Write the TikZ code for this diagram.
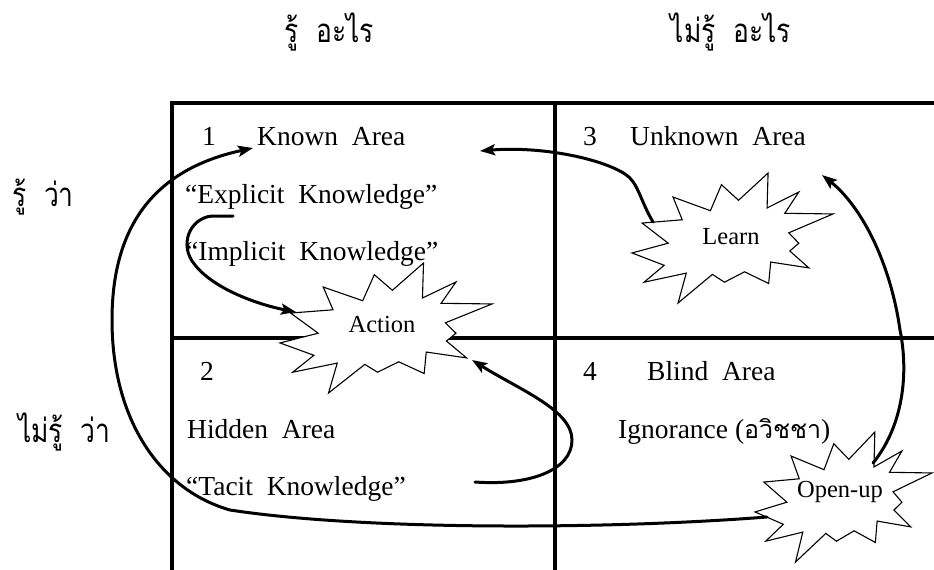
\documentclass[tikz,border=0pt]{standalone}
\usepackage{fontspec}
\setmainfont{Liberation Serif}
\newfontfamily\thaifont[Script=Thai]{Loma}
\usetikzlibrary{arrows.meta}

\tikzset{
  gridline/.style={line width=4pt},
  flow/.style={line width=3pt, line cap=round,
    -{Stealth[length=15pt,width=11pt,inset=3pt]}},
  burst/.style={draw, line width=1.1pt, fill=white, line join=miter},
  lbl/.style={inner sep=0pt, anchor=base west, font=\fontsize{27.5}{30}\selectfont},
  thai/.style={inner sep=0pt, font=\thaifont\fontsize{33}{36}\selectfont},
  burstlabel/.style={inner sep=0pt, font=\fontsize{24.5}{26}\selectfont},
}

% narrow Thai lettering
\newcommand\narrowthai[1]{\scalebox{0.8}[1]{#1}}

% explosion outline in a unit box, placed by shift and scale
\newcommand\explosion[4]{%
  \begin{scope}[shift={(#1,#2)}, xscale=#3, yscale=#4]
    \draw[burst] (0.05,0.385) -- (0.25,0.36) -- (0.204,0.185) -- (0.39,0.29)
      -- (0.445,0.09) -- (0.53,0.21) -- (0.677,0) -- (0.672,0.269)
      -- (0.83,0.146) -- (0.76,0.31) -- (1,0.315) -- (0.78,0.46)
      -- (0.83,0.54) -- (0.785,0.6) -- (0.88,0.73) -- (0.69,0.685)
      -- (0.68,0.85) -- (0.56,0.76) -- (0.46,0.84) -- (0.40,0.78)
      -- (0.229,1) -- (0.27,0.77) -- (0.06,0.84) -- (0.16,0.71)
      -- (0,0.615) -- (0.18,0.54) -- cycle;
  \end{scope}}

\begin{document}
\begin{tikzpicture}[x=1pt, y=-1pt]
\useasboundingbox (0,0) rectangle (934,570);

% window grid
\draw[gridline] (172,103) -- (934,103);
\draw[gridline] (172,338) -- (934,338);
\draw[gridline] (172,101) -- (172,570);
\draw[gridline] (555,101) -- (555,570);

% column and row headings
\node[thai] (colknown) at (329,32) {\narrowthai{รู้~~อะไร}};
\node[thai] (colunknown) at (731,32) {\narrowthai{ไม่รู้~~อะไร}};
\node[thai, anchor=west] (rowknown) at (12,197) {\narrowthai{รู้~~ว่า}};
\node[thai, anchor=west] (rowunknown) at (18,432) {\narrowthai{ไม่รู้~~ว่า}};

% quadrant 1
\node[lbl] (n1) at (202,145) {1};
\node[lbl] (known) at (257,145) {Known~ Area};
\node[lbl] (explicit) at (185,203) {“Explicit~ Knowledge”};
\node[lbl] (implicit) at (186,260) {“Implicit~ Knowledge”};
% quadrant 3
\node[lbl] (n3) at (583,145) {3};
\node[lbl] (unknown) at (630,145) {Unknown~ Area};
% quadrant 2
\node[lbl] (n2) at (200,380) {2};
\node[lbl] (hidden) at (187,438) {Hidden~ Area};
\node[lbl] (tacit) at (186,495) {“Tacit~ Knowledge”};
% quadrant 4
\node[lbl] (n4) at (583,380) {4};
\node[lbl] (blind) at (647,380) {Blind~ Area};
\node[lbl] (ignorance) at (618,438) {Ignorance ({\thaifont\fontsize{25}{28}\selectfont อวิชชา})};

% explosions
\explosion{280}{263}{212}{130}
\node[burstlabel] (action) at (382,325) {Action};
\explosion{632}{173}{201}{130}
\node[burstlabel] (learn) at (731,237) {Learn};
\explosion{755}{432}{177}{130}
\node[burstlabel] (openup) at (840,492) {Open-up};

% connector ends
\coordinate (knownin) at (253,148);
\coordinate (unknownin) at (822,175);
\coordinate (learnout) at (653,222);
\coordinate (actionin) at (296,312);
\coordinate (actionin2) at (472,360);
\coordinate (explicitout) at (233,216);
\coordinate (tacitout) at (475,482);
\coordinate (openupout) at (767,517);
\coordinate (openuptop) at (873,463);

% flows
\draw[flow] (openupout) .. controls (600,530) and (360,530) .. (230,510)
  .. controls (160,490) and (112,420) .. (112,320)
  .. controls (112,220) and (160,168) .. (knownin);
\draw[flow] (explicitout) -- (212,216) .. controls (190,218) and (178,245) .. (195,265)
  .. controls (215,290) and (260,305) .. (actionin);
\draw[flow] (tacitout) .. controls (530,486) and (572,470) .. (572,440)
  .. controls (572,410) and (520,390) .. (actionin2);
\draw[flow] (learnout) .. controls (640,200) and (638,182) .. (625,174)
  .. controls (600,158) and (540,146) .. (480,151);
\draw[flow] (openuptop) .. controls (900,430) and (910,380) .. (900,330)
  .. controls (890,260) and (860,205) .. (unknownin);
\end{tikzpicture}
\end{document}
